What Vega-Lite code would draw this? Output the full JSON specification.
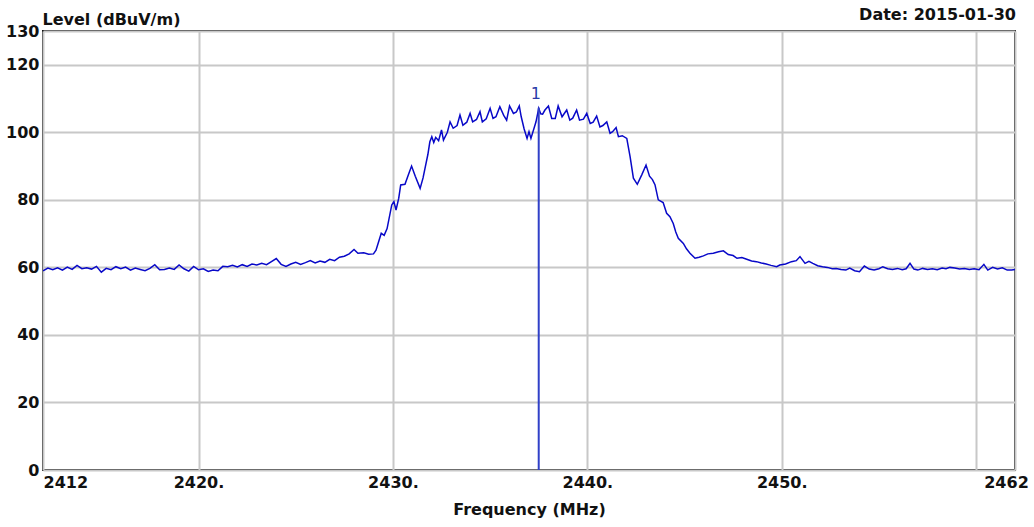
{
  "$schema": "https://vega.github.io/schema/vega-lite/v6.json",
  "autosize": {"type": "none"},
  "padding": {"left": 43, "top": 31, "right": 19, "bottom": 57},
  "width": 972,
  "height": 439,
  "background": "white",
  "config": {
    "view": {"stroke": "#111111", "strokeWidth": 2},
    "axis": {
      "labelFont": "DejaVu Sans", "labelFontWeight": "bold", "labelFontSize": 16, "labelColor": "#111111",
      "titleFont": "DejaVu Sans", "titleFontWeight": "bold", "titleFontSize": 16, "titleColor": "#111111",
      "domain": false, "ticks": false, "gridColor": "#c8c8c8", "gridWidth": 2, "gridOpacity": 1
    }
  },
  "layer": [
    {
      "data": {"values": [
        {"f":2412.0,"v":59.0},{"f":2412.25,"v":59.8},{"f":2412.5,"v":59.3},{"f":2412.75,"v":59.9},
        {"f":2413.0,"v":59.2},{"f":2413.25,"v":60.1},{"f":2413.5,"v":59.4},{"f":2413.75,"v":60.6},
        {"f":2414.0,"v":59.6},{"f":2414.25,"v":59.9},{"f":2414.5,"v":59.5},{"f":2414.75,"v":60.3},
        {"f":2415.0,"v":58.6},{"f":2415.25,"v":59.7},{"f":2415.5,"v":59.3},{"f":2415.75,"v":60.2},
        {"f":2416.0,"v":59.6},{"f":2416.25,"v":60.1},{"f":2416.5,"v":59.2},{"f":2416.75,"v":59.8},
        {"f":2417.0,"v":59.4},{"f":2417.25,"v":59.0},{"f":2417.5,"v":59.7},{"f":2417.75,"v":60.8},
        {"f":2418.0,"v":59.3},{"f":2418.25,"v":59.4},{"f":2418.5,"v":59.8},{"f":2418.75,"v":59.4},
        {"f":2419.0,"v":60.7},{"f":2419.25,"v":59.6},{"f":2419.5,"v":58.9},{"f":2419.75,"v":60.3},
        {"f":2420.0,"v":59.3},{"f":2420.25,"v":59.6},{"f":2420.5,"v":58.8},{"f":2420.75,"v":59.2},
        {"f":2421.0,"v":59.0},{"f":2421.25,"v":60.3},{"f":2421.5,"v":60.2},{"f":2421.75,"v":60.6},
        {"f":2422.0,"v":60.1},{"f":2422.25,"v":60.8},{"f":2422.5,"v":60.3},{"f":2422.75,"v":61.0},
        {"f":2423.0,"v":60.7},{"f":2423.25,"v":61.2},{"f":2423.5,"v":60.8},{"f":2423.75,"v":61.7},
        {"f":2424.0,"v":62.6},{"f":2424.25,"v":60.9},{"f":2424.5,"v":60.3},{"f":2424.75,"v":61.0},
        {"f":2425.0,"v":61.5},{"f":2425.25,"v":60.9},{"f":2425.5,"v":61.4},{"f":2425.75,"v":62.0},
        {"f":2426.0,"v":61.3},{"f":2426.25,"v":61.9},{"f":2426.5,"v":61.5},{"f":2426.75,"v":62.4},
        {"f":2427.0,"v":62.0},{"f":2427.25,"v":63.0},{"f":2427.5,"v":63.3},{"f":2427.75,"v":64.0},
        {"f":2428.0,"v":65.3},{"f":2428.2,"v":64.2},{"f":2428.5,"v":64.3},{"f":2428.75,"v":63.9},
        {"f":2429.0,"v":64.0},{"f":2429.13,"v":65.1},{"f":2429.4,"v":70.1},{"f":2429.55,"v":69.5},
        {"f":2429.7,"v":71.5},{"f":2429.94,"v":78.5},{"f":2430.05,"v":79.5},{"f":2430.16,"v":77.0},
        {"f":2430.3,"v":80.5},{"f":2430.4,"v":84.4},{"f":2430.62,"v":84.6},{"f":2430.8,"v":87.5},
        {"f":2430.96,"v":90.0},{"f":2431.15,"v":87.0},{"f":2431.4,"v":83.4},{"f":2431.55,"v":86.5},
        {"f":2431.65,"v":89.3},{"f":2431.8,"v":93.5},{"f":2431.9,"v":97.2},{"f":2432.0,"v":98.7},
        {"f":2432.1,"v":97.0},{"f":2432.2,"v":98.5},{"f":2432.35,"v":97.5},{"f":2432.5,"v":100.7},
        {"f":2432.6,"v":97.7},{"f":2432.8,"v":100.0},{"f":2432.94,"v":103.1},{"f":2433.1,"v":101.2},
        {"f":2433.3,"v":102.0},{"f":2433.45,"v":105.1},{"f":2433.6,"v":102.1},{"f":2433.8,"v":103.0},
        {"f":2433.97,"v":105.6},{"f":2434.1,"v":103.1},{"f":2434.3,"v":103.8},{"f":2434.48,"v":106.1},
        {"f":2434.6,"v":103.1},{"f":2434.8,"v":104.0},{"f":2435.0,"v":107.1},{"f":2435.15,"v":104.1},
        {"f":2435.3,"v":104.6},{"f":2435.5,"v":107.6},{"f":2435.7,"v":105.0},{"f":2435.85,"v":103.6},
        {"f":2436.0,"v":107.8},{"f":2436.2,"v":105.6},{"f":2436.35,"v":106.0},{"f":2436.5,"v":107.8},
        {"f":2436.6,"v":104.6},{"f":2436.75,"v":101.0},{"f":2436.9,"v":98.2},{"f":2437.0,"v":100.2},
        {"f":2437.1,"v":98.2},{"f":2437.36,"v":103.1},{"f":2437.5,"v":107.1},{"f":2437.6,"v":105.5},
        {"f":2437.7,"v":105.4},{"f":2437.82,"v":106.6},{"f":2438.0,"v":107.8},{"f":2438.17,"v":104.1},
        {"f":2438.35,"v":104.1},{"f":2438.5,"v":107.8},{"f":2438.7,"v":104.6},{"f":2438.94,"v":106.6},
        {"f":2439.1,"v":103.6},{"f":2439.25,"v":104.2},{"f":2439.45,"v":106.6},{"f":2439.6,"v":103.6},
        {"f":2439.8,"v":103.9},{"f":2439.97,"v":105.6},{"f":2440.15,"v":102.6},{"f":2440.3,"v":103.0},
        {"f":2440.48,"v":104.8},{"f":2440.65,"v":101.6},{"f":2440.8,"v":102.0},{"f":2441.0,"v":103.1},
        {"f":2441.17,"v":99.7},{"f":2441.3,"v":100.2},{"f":2441.48,"v":101.4},{"f":2441.6,"v":98.7},
        {"f":2441.8,"v":99.0},{"f":2442.03,"v":98.2},{"f":2442.2,"v":92.8},{"f":2442.37,"v":86.4},
        {"f":2442.57,"v":84.6},{"f":2442.8,"v":87.4},{"f":2443.02,"v":90.3},{"f":2443.2,"v":87.0},
        {"f":2443.35,"v":86.0},{"f":2443.48,"v":84.5},{"f":2443.65,"v":80.0},{"f":2443.9,"v":79.2},
        {"f":2444.08,"v":76.0},{"f":2444.25,"v":75.0},{"f":2444.42,"v":73.0},{"f":2444.55,"v":70.5},
        {"f":2444.68,"v":68.6},{"f":2444.94,"v":67.1},{"f":2445.1,"v":65.5},{"f":2445.28,"v":64.2},
        {"f":2445.54,"v":62.7},{"f":2445.75,"v":63.0},{"f":2445.97,"v":63.4},{"f":2446.2,"v":64.0},
        {"f":2446.48,"v":64.2},{"f":2446.75,"v":64.6},{"f":2447.0,"v":64.9},{"f":2447.25,"v":63.8},
        {"f":2447.5,"v":63.5},{"f":2447.7,"v":62.7},{"f":2447.95,"v":62.9},{"f":2448.2,"v":62.4},
        {"f":2448.45,"v":61.9},{"f":2448.7,"v":61.7},{"f":2448.95,"v":61.3},{"f":2449.2,"v":61.0},
        {"f":2449.45,"v":60.6},{"f":2449.74,"v":60.2},{"f":2449.9,"v":60.7},{"f":2450.2,"v":61.0},
        {"f":2450.5,"v":61.7},{"f":2450.75,"v":62.0},{"f":2450.94,"v":63.2},{"f":2451.2,"v":61.2},
        {"f":2451.4,"v":61.8},{"f":2451.6,"v":61.2},{"f":2451.85,"v":60.5},{"f":2452.1,"v":60.2},
        {"f":2452.35,"v":60.0},{"f":2452.6,"v":59.6},{"f":2452.8,"v":59.7},{"f":2453.05,"v":59.4},
        {"f":2453.3,"v":59.2},{"f":2453.5,"v":59.8},{"f":2453.75,"v":59.0},{"f":2454.0,"v":58.7},
        {"f":2454.25,"v":60.4},{"f":2454.5,"v":59.5},{"f":2454.75,"v":59.2},{"f":2455.0,"v":59.6},
        {"f":2455.2,"v":60.2},{"f":2455.45,"v":59.6},{"f":2455.7,"v":59.4},{"f":2455.95,"v":59.7},
        {"f":2456.2,"v":59.3},{"f":2456.4,"v":59.6},{"f":2456.6,"v":61.2},{"f":2456.8,"v":59.5},
        {"f":2457.0,"v":59.2},{"f":2457.25,"v":59.7},{"f":2457.5,"v":59.4},{"f":2457.75,"v":59.6},
        {"f":2458.0,"v":59.3},{"f":2458.25,"v":59.8},{"f":2458.45,"v":59.6},{"f":2458.65,"v":60.0},
        {"f":2458.9,"v":59.8},{"f":2459.15,"v":59.5},{"f":2459.4,"v":59.7},{"f":2459.65,"v":59.4},
        {"f":2459.9,"v":59.6},{"f":2460.15,"v":59.3},{"f":2460.4,"v":60.9},{"f":2460.6,"v":59.2},
        {"f":2460.85,"v":60.0},{"f":2461.1,"v":59.5},{"f":2461.35,"v":59.9},{"f":2461.6,"v":59.2},
        {"f":2461.83,"v":59.2},{"f":2462.0,"v":59.4}
      ]},
      "mark": {"type": "line", "color": "#0808c8", "strokeWidth": 1.5, "clip": true},
      "encoding": {
        "x": {
          "field": "f", "type": "quantitative",
          "scale": {"domain": [2412, 2462], "nice": false, "zero": false},
          "axis": {
            "values": [2412, 2420, 2430, 2440, 2450, 2460, 2462],
            "format": "d",
            "labelExpr": "datum.value == 2412 || datum.value == 2462 ? '' + datum.value : (datum.value == 2460 ? '' : datum.value + '.')",
            "labelAlign": {"condition": {"test": "datum.value == 2412", "value": "left"}, "value": "center"},
            "labelOffset": {"condition": {"test": "datum.value == 2462", "value": -9}, "value": 0},
            "labelPadding": 4,
            "labelFlush": false,
            "labelOverlap": false,
            "title": "Frequency (MHz)",
            "titleBaseline": "alphabetic",
            "titleY": 44
          }
        },
        "y": {
          "field": "v", "type": "quantitative",
          "scale": {"domain": [0, 130], "nice": false},
          "axis": {
            "values": [0, 20, 40, 60, 80, 100, 120, 130],
            "labelPadding": 4,
            "labelOverlap": false,
            "labelFlush": false,
            "title": "Level (dBuV/m)",
            "titleAngle": 0,
            "titleAlign": "left",
            "titleBaseline": "alphabetic",
            "titleX": -1,
            "titleY": -7
          }
        }
      }
    },
    {
      "data": {"values": [{}]},
      "mark": {"type": "rule", "color": "#3040c8", "strokeWidth": 2},
      "encoding": {
        "x": {"datum": 2437.5, "type": "quantitative"},
        "y": {"datum": 0, "type": "quantitative"},
        "y2": {"datum": 107.3}
      }
    },
    {
      "data": {"values": [{}]},
      "mark": {"type": "text", "text": "1", "font": "DejaVu Sans", "fontSize": 16, "color": "#2a3aa8", "baseline": "alphabetic", "align": "center", "dx": -3, "dy": -9},
      "encoding": {
        "x": {"datum": 2437.5, "type": "quantitative"},
        "y": {"datum": 107.3, "type": "quantitative"}
      }
    },
    {
      "data": {"values": [{}]},
      "mark": {"type": "text", "text": "Date: 2015-01-30", "font": "DejaVu Sans", "fontWeight": "bold", "fontSize": 16, "color": "#111111", "baseline": "alphabetic", "align": "right", "dx": 1, "dy": -11},
      "encoding": {
        "x": {"datum": 2462, "type": "quantitative"},
        "y": {"datum": 130, "type": "quantitative"}
      }
    }
  ]
}
